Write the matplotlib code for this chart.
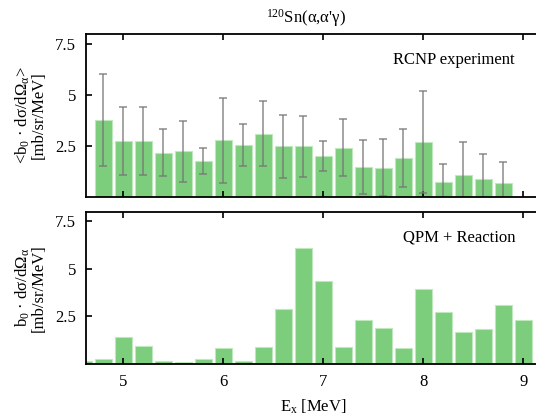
import matplotlib
matplotlib.use('Agg')
from matplotlib import pyplot as plt

plt.rcParams['font.family'] = 'Liberation Serif'
plt.rcParams['mathtext.fontset'] = 'custom'
plt.rcParams['mathtext.rm'] = 'Liberation Serif'
plt.rcParams['mathtext.it'] = 'Liberation Serif'
plt.rcParams['mathtext.bf'] = 'Liberation Serif:bold'

# RCNP measured strength per 200 keV bin
exp_energy = [4.8, 5.0, 5.2, 5.4, 5.6, 5.8, 6.0, 6.2, 6.4, 6.6, 6.8,
              7.0, 7.2, 7.4, 7.6, 7.8, 8.0, 8.2, 8.4, 8.6, 8.8]
exp_value = [3.78, 2.74, 2.76, 2.18, 2.25, 1.77, 2.78, 2.53, 3.10, 2.48, 2.50,
             2.01, 2.42, 1.49, 1.44, 1.92, 2.71, 0.76, 1.10, 0.89, 0.70]
exp_error = [2.28, 1.68, 1.68, 1.15, 1.50, 0.65, 2.07, 1.03, 1.60, 1.54, 1.50,
             0.75, 1.40, 1.32, 1.40, 1.43, 2.50, 0.85, 1.60, 1.20, 1.00]

# QPM + reaction calculation
qpm_energy = [4.6, 4.8, 5.0, 5.2, 5.4, 5.6, 5.8, 6.0, 6.2, 6.4, 6.6, 6.8,
              7.0, 7.2, 7.4, 7.6, 7.8, 8.0, 8.2, 8.4, 8.6, 8.8, 9.0]
qpm_value = [0.17, 0.27, 1.41, 0.96, 0.18, 0.08, 0.27, 0.82, 0.17, 0.90, 2.90, 6.08,
             4.38, 0.89, 2.32, 1.89, 0.82, 3.92, 2.71, 1.66, 1.83, 3.11, 2.31]

xticks = [5, 6, 7, 8, 9]
yticks = [2.5, 5, 7.5]
ytick_labels = ['2.5', '5', '7.5']

bar_color = '#7ccd7c'
edge_color = '#bfe8bf'

fig = plt.figure(figsize=(5.36, 4.2), dpi=100)
ax1 = fig.add_axes([86 / 536, 1 - 197 / 420, 454 / 536, 163 / 420])
ax2 = fig.add_axes([86 / 536, 1 - 364 / 420, 454 / 536, 152.5 / 420])

ax1.bar(exp_energy, exp_value, width=0.165, color=bar_color,
        edgecolor=edge_color, linewidth=0.8)
ax1.errorbar(exp_energy, exp_value, yerr=exp_error, fmt='none',
             ecolor='#777777', elinewidth=1.1, capsize=3.2, capthick=1.1, alpha=0.85)
ax2.bar(qpm_energy, qpm_value, width=0.165, color=bar_color,
        edgecolor=edge_color, linewidth=0.8)

for ax in (ax1, ax2):
    ax.set_xlim(4.627, 9.167)
    ax.set_ylim(0, 8)
    ax.set_xticks(xticks)
    ax.set_yticks(yticks)
    ax.set_yticklabels(ytick_labels)
    ax.tick_params(axis='both', direction='in', length=4.5, width=1.2,
                   labelsize=12, top=True, right=False, pad=7)
    for s in ax.spines.values():
        s.set_linewidth(1.3)

ax1.tick_params(axis='x', labelbottom=False)
ax1.text(0.945, 0.84, 'RCNP experiment', transform=ax1.transAxes,
         ha='right', va='center', fontsize=12)
ax2.text(0.945, 0.83, 'QPM + Reaction', transform=ax2.transAxes,
         ha='right', va='center', fontsize=12)

ax1.set_ylabel('<b$_0$ · dσ/dΩ$_α$>\n[mb/sr/MeV]', fontsize=12,
               linespacing=0.95, labelpad=6)
ax2.set_ylabel('b$_0$ · dσ/dΩ$_α$\n[mb/sr/MeV]', fontsize=12,
               linespacing=0.95, labelpad=6)
ax2.set_xlabel('E$_\\mathrm{x}$ [MeV]', fontsize=12, labelpad=6)
fig.text(0.57, 0.958, "$^{120}$Sn(α,α'γ)", ha='center', va='center', fontsize=12)

plt.savefig('out.png', dpi=100)
